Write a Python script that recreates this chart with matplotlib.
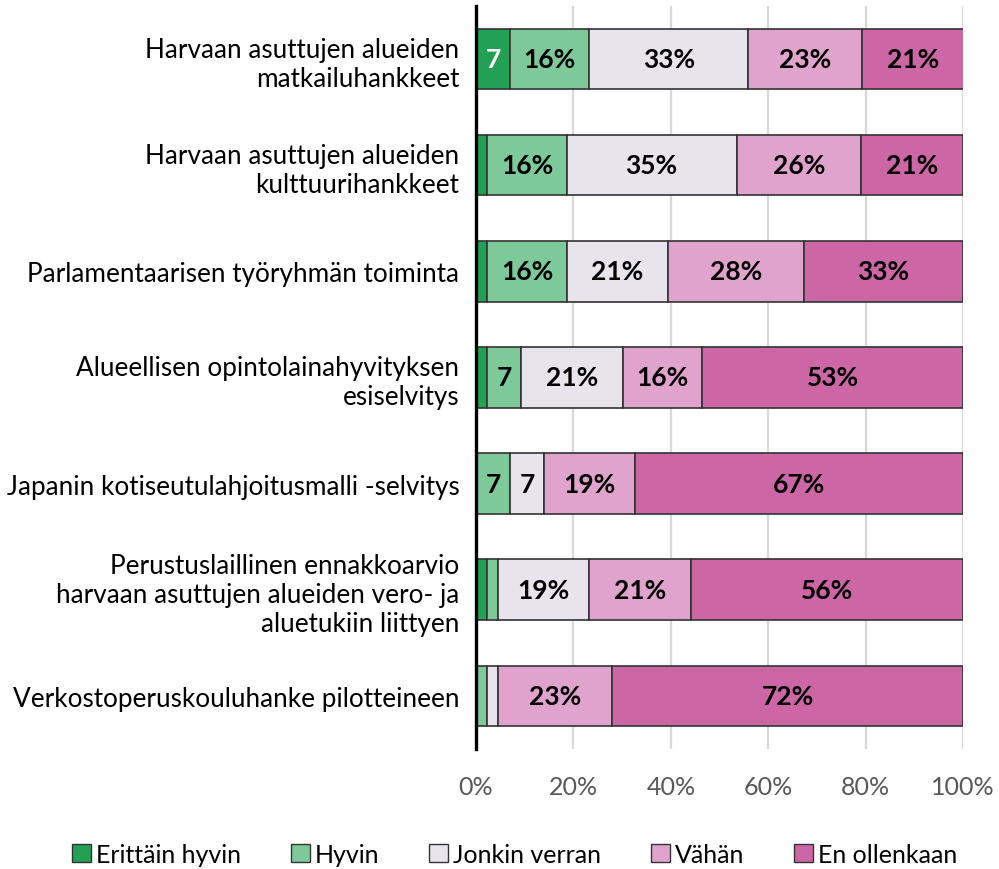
import matplotlib
matplotlib.use('Agg')
import matplotlib.pyplot as plt
from matplotlib.patches import Patch
import numpy as np

plt.rcParams['font.family'] = ['Lato', 'DejaVu Sans']

categories = [
    'Harvaan asuttujen alueiden\nmatkailuhankkeet',
    'Harvaan asuttujen alueiden\nkulttuurihankkeet',
    'Parlamentaarisen työryhmän toiminta',
    'Alueellisen opintolainahyvityksen\nesiselvitys',
    'Japanin kotiseutulahjoitusmalli -selvitys',
    'Perustuslaillinen ennakkoarvio\nharvaan asuttujen alueiden vero- ja\naluetukiin liittyen',
    'Verkostoperuskouluhanke pilotteineen',
]
series_names = ['Erittäin hyvin', 'Hyvin', 'Jonkin verran', 'Vähän', 'En ollenkaan']

erittain_hyvin = [7.0, 2.3, 2.3, 2.3, 0.0, 2.3, 0.0]
hyvin = [16.3, 16.3, 16.3, 7.0, 7.0, 2.3, 2.3]
jonkin_verran = [32.6, 34.9, 20.9, 20.9, 7.0, 18.6, 2.3]
vahan = [23.3, 25.6, 27.9, 16.3, 18.6, 20.9, 23.3]
en_ollenkaan = [20.9, 20.9, 32.6, 53.4, 67.4, 55.8, 72.1]

colors = ['#22a154', '#7dc999', '#e7e4ec', '#e0a3cb', '#cc66a5']
text_colors = ['white', 'black', 'black', 'black', 'black']

fig = plt.figure(figsize=(9.99, 8.7), dpi=100)
ax = fig.add_axes([0.4765, 0.138, 0.4875, 0.854])

y = np.arange(len(categories))
left = np.zeros(len(categories))
all_series = [erittain_hyvin, hyvin, jonkin_verran, vahan, en_ollenkaan]
for name, vals, col, tcol in zip(series_names, all_series, colors, text_colors):
    vals = np.array(vals)
    ax.barh(y, vals, left=left, height=0.57, color=col, edgecolor='#333333',
            linewidth=1.2, zorder=3, label=name)
    for yi, (l, v) in enumerate(zip(left, vals)):
        if v >= 5:
            lab = f'{v:.0f}%' if v >= 9.5 else f'{v:.0f}'
            ax.text(l + v / 2, yi, lab, ha='center', va='center',
                    fontsize=19, fontweight='bold', color=tcol, zorder=4)
    left += vals

ax.set_xlim(0, 100)
ax.set_ylim(len(categories) - 0.5, -0.5)
ax.set_yticks(y)
ax.set_yticklabels(categories, fontsize=18.8, linespacing=1.22)
ax.set_xticks(np.arange(0, 101, 20))
ax.set_xticklabels([f'{t}%' for t in range(0, 101, 20)], fontsize=18, color='#595959')
ax.tick_params(axis='both', length=0)
ax.tick_params(axis='x', pad=19)
ax.tick_params(axis='y', pad=12)

ax.grid(axis='x', color='#d9d9d9', linewidth=1.6, zorder=0)
ax.set_axisbelow(True)
for s in ['top', 'right', 'bottom']:
    ax.spines[s].set_visible(False)
ax.spines['left'].set_linewidth(2.4)
ax.spines['left'].set_color('black')
ax.spines['left'].set_zorder(5)

handles = [Patch(facecolor=c, edgecolor='#333333', linewidth=1.0, label=n)
           for c, n in zip(colors, series_names)]
fig.legend(handles=handles, loc='center', bbox_to_anchor=(0.515, 0.017),
           ncol=5, frameon=False, fontsize=18, handlelength=0.75,
           handleheight=0.75, handletextpad=0.2, columnspacing=2.0)

fig.savefig('out.png', dpi=100)
